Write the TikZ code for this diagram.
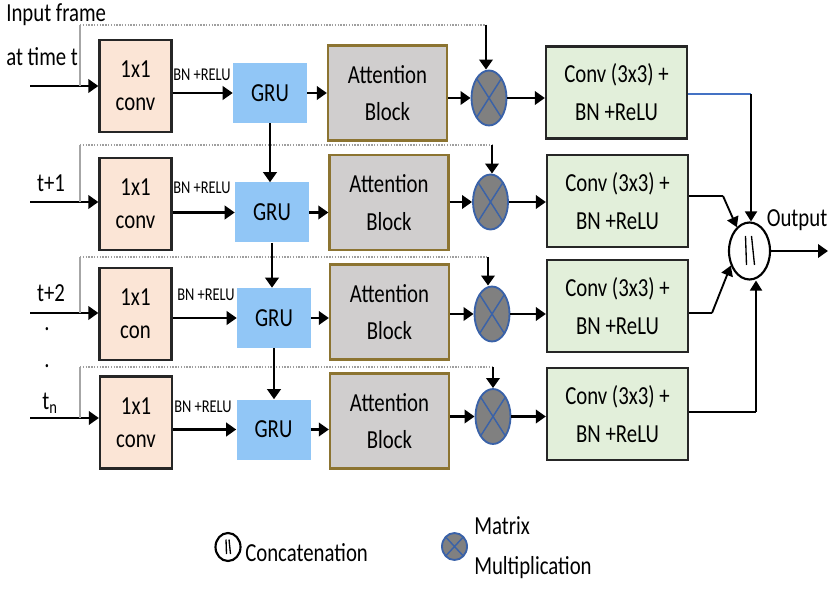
\documentclass[tikz,border=0pt]{standalone}
\usepackage{fontspec}
\setmainfont{Carlito}
\usepackage{graphicx}
\usetikzlibrary{shapes.geometric,arrows.meta,calc}
\newcommand{\vs}[1]{\scalebox{1}[1.25]{#1}}
\definecolor{peach}{HTML}{FBE5D6}
\definecolor{grublue}{HTML}{91C6F6}
\definecolor{attgray}{HTML}{D0CECE}
\definecolor{attedge}{HTML}{8C7431}
\definecolor{mulgray}{HTML}{808080}
\definecolor{muledge}{HTML}{3A62A8}
\definecolor{convgreen}{HTML}{E2EFDA}
\definecolor{linkblue}{HTML}{4472C4}
\newcommand{\concatbars}[2]{%
  \draw[line width=1pt] ([shift={(-4*#2,-15*#2)}]#1.center) -- ([shift={(-3*#2,14*#2)}]#1.center);
  \draw[line width=1pt] ([shift={(2*#2,-15*#2)}]#1.center) -- ([shift={(5*#2,14*#2)}]#1.center);}
\begin{document}
\begin{tikzpicture}[x=0.75pt,y=-0.75pt,
  arr/.style={line width=2.1pt,-{Triangle[length=7.5pt,width=10pt]}},
  thinarr/.style={line width=1.4pt,-{Triangle[length=7.5pt,width=9pt]}},
  txt/.style={font=\fontsize{15.6}{28}\selectfont,inner sep=0pt},
  small/.style={font=\fontsize{10.8}{12}\selectfont,inner sep=0pt},
  convbox/.style={draw=black!85,fill=peach,line width=1.7pt,inner sep=0pt,align=center,
    minimum width=54pt,minimum height=69pt,font=\fontsize{15.6}{25}\selectfont},
  grubox/.style={fill=grublue,inner sep=0pt,minimum width=55.5pt,minimum height=45pt,
    font=\fontsize{15.6}{28}\selectfont},
  attbox/.style={draw=attedge,fill=attgray,line width=1.7pt,inner sep=0pt,align=center,
    minimum width=89.25pt,minimum height=71.25pt,font=\fontsize{15.6}{28}\selectfont},
  k3box/.style={draw=black!85,fill=convgreen,line width=1.7pt,inner sep=0pt,align=center,
    minimum width=105.75pt,minimum height=69pt,font=\fontsize{15.6}{28.5}\selectfont},
  mulnode/.style={ellipse,draw=muledge,fill=mulgray,line width=1.4pt,inner sep=0pt,
    minimum width=26.25pt,minimum height=41.25pt,
    path picture={\draw[muledge,line width=1.1pt]
      (path picture bounding box.north west) -- (path picture bounding box.south east)
      (path picture bounding box.north east) -- (path picture bounding box.south west);}},
  catnode/.style={ellipse,draw=black,fill=white,line width=1.6pt,inner sep=0pt,
    minimum width=30.75pt,minimum height=42.75pt},
  guide/.style={line width=1pt,gray!70},
  dots/.style={line width=1.1pt,gray!75,densely dotted}]
\useasboundingbox (0,0) rectangle (831,591);

% left labels
\node[txt,anchor=west] (lab1) at (6,15) {\vs{Input frame}};
\node[txt,anchor=west] (lab2) at (6,57) {\vs{at time t}};
\node[txt] (lab3) at (51,183) {\vs{t+1}};
\node[txt] (lab4) at (51,293) {\vs{t+2}};
\node[txt] (dot1) at (47,329) {\vs{.}};
\node[txt] (dot2) at (47,366) {\vs{.}};
\node[txt] (lab5) at (50,403) {\vs{t\textsubscript{n}}};

% 1x1 conv
\node[convbox] (c1) at (135.5,86) {\vs{1x1}\\\vs{conv}};
\node[convbox] (c2) at (135.5,204) {\vs{1x1}\\\vs{conv}};
\node[convbox] (c3) at (135.5,314) {\vs{1x1}\\\vs{con}};
\node[convbox] (c4) at (136,422.5) {\vs{1x1}\\\vs{conv}};

% GRU
\node[grubox] (g1) at (270,93) {\vs{GRU}};
\node[grubox] (g2) at (272,212.5) {\vs{GRU}};
\node[grubox] (g3) at (274,318) {\vs{GRU}};
\node[grubox] (g4) at (273.5,429.5) {\vs{GRU}};

% attention
\node[attbox] (a1) at (387.5,93) {\vs{Attention}\\\vs{Block}};
\node[attbox] (a2) at (389,202.5) {\vs{Attention}\\\vs{Block}};
\node[attbox] (a3) at (389.5,312) {\vs{Attention}\\\vs{Block}};
\node[attbox] (a4) at (389.5,421) {\vs{Attention}\\\vs{Block}};

% matrix multiplication
\node[mulnode] (m1) at (489,98) {};
\node[mulnode] (m2) at (490.5,202) {};
\node[mulnode] (m3) at (492,314) {};
\node[mulnode] (m4) at (493,416.5) {};

% conv 3x3
\node[k3box] (k1) at (616.5,92.5) {\vs{Conv (3x3) +}\\\vs{BN +ReLU}};
\node[k3box] (k2) at (617.5,201) {\vs{Conv (3x3) +}\\\vs{BN +ReLU}};
\node[k3box] (k3) at (617.5,306) {\vs{Conv (3x3) +}\\\vs{BN +ReLU}};
\node[k3box] (k4) at (617.5,414) {\vs{Conv (3x3) +}\\\vs{BN +ReLU}};

% concatenation
\node[catnode] (cc) at (749.5,251) {};
\concatbars{cc}{1}
\node[txt] (outlab) at (797,220) {\vs{Output}};
\coordinate (outend) at (828,251);
\draw[arr] (cc.east) -- (outend);

% inputs
\coordinate (in1) at (30,86);
\coordinate (in2) at (30,202);
\coordinate (in3) at (30,313);
\coordinate (in4) at (30,418);
\foreach \i in {1,...,4} {\draw[arr] (in\i) -- (in\i -| c\i.west);}

% skip paths
\coordinate (d1) at (80,25);  \coordinate (e1) at (486,25);
\coordinate (d2) at (80,145); \coordinate (e2) at (492,145);
\coordinate (d3) at (80,257); \coordinate (e3) at (488,257);
\coordinate (d4) at (80,367); \coordinate (e4) at (493,367);
\foreach \i in {1,...,4} {
  \draw[guide] (in\i -| d\i) -- (d\i);
  \draw[dots] (d\i) -- (e\i);
  \draw[arr] (e\i) -- (e\i |- m\i.north);
}

% conv -> GRU with labels
\foreach \i in {1,...,4} {\draw[arr] (c\i.east |- g\i.west) -- (g\i.west);}
\node[small] (bn1) at (202,75) {\vs{BN +RELU}};
\node[small] (bn2) at (202,188) {\vs{BN +RELU}};
\node[small] (bn3) at (206,295) {\vs{BN +RELU}};
\node[small] (bn4) at (203,407) {\vs{BN +RELU}};

% GRU chain
\draw[arr] (g1.south) -- (g1.south |- g2.north);
\draw[arr] (g2.south) -- (g2.south |- g3.north);
\draw[arr] (g3.south) -- (g3.south |- g4.north);

% GRU -> attention -> mult -> conv3x3
\foreach \i in {1,...,4} {
  \draw[arr] (g\i.east) -- (a\i.west |- g\i.east);
  \draw[arr] (a\i.east |- m\i.west) -- (m\i.west);
  \draw[arr] (m\i.east) -- (k\i.west |- m\i.east);
}

% conv3x3 -> concatenation
\coordinate (j1) at (751,94);
\draw[linkblue,line width=1pt] (k1.east |- j1) -- (j1);
\draw[thinarr] (j1) -- (j1 |- cc.north);
\coordinate (j2) at (723,196);
\draw[line width=1.2pt] (k2.east |- j2) -- (j2);
\draw[thinarr] (j2) -- (cc.118);
\coordinate (j3) at (712,313);
\draw[line width=1.2pt] (k3.east |- j3) -- (j3);
\draw[thinarr] (j3) -- (cc.218);
\coordinate (j4) at (756,412);
\draw[line width=1.2pt] (k4.east |- j4) -- (j4);
\draw[thinarr] (j4) -- (j4 |- cc.south);

% legend
\node[catnode,minimum width=18.75pt,minimum height=21pt] (lc) at (228,547) {};
\concatbars{lc}{0.5}
\node[txt,anchor=west] (lct) at (245,553) {\vs{Concatenation}};
\node[mulnode,minimum width=18.75pt,minimum height=20.25pt] (lm) at (454.5,546.5) {};
\node[txt,anchor=west] (lmt1) at (474,526) {\vs{Matrix}};
\node[txt,anchor=west] (lmt2) at (474,568) {\vs{Multiplication}};
\end{tikzpicture}
\end{document}
